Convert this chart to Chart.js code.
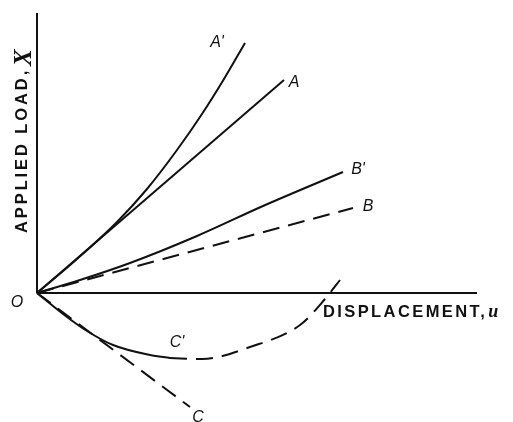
<!DOCTYPE html>
<html>
<head>
<meta charset="utf-8">
<script src="https://cdn.jsdelivr.net/npm/chart.js@4"></script>
<style>
  body { margin: 0; background: #fff; }
  canvas { display: block; }
</style>
</head>
<body>
<canvas id="loadChart" width="513" height="422"></canvas>
<script>
// curves (displacement u, applied load X), arbitrary units
const curveA1 = [[0,0],[4,3.4],[8,7.1],[11,10.4],[14,14.3],[16.5,17.9],[18.7,21.4],[20.8,25]];
const curveA  = [[0,0],[24.7,21.3]];
const curveB1 = [[0,0],[4.3,1.3],[9.3,3],[16,5.7],[22.6,8.7],[30.6,12.1]];
const curveB  = [[0,0],[31.6,8.5]];
const curveC1 = [[0,0],[2.6,-2.1],[5,-3.8],[7.6,-5.2],[11.3,-6.2],[13.3,-6.5]];
const curveC1dash = [[13.3,-6.5],[16.5,-6.6],[21.3,-5.4],[26.3,-3.2],[28.8,-0.6],[30.3,1.3]];
const curveC  = [[0,0],[15.3,-11.4]];
const axisY = [[0,0],[0,28]];
const axisX = [[0,0],[44,0]];

// curve labels [text, u, X]
const curveLabels = [
    ["A'", 18, 25],
    ["A", 25.7, 21],
    ["B'", 32.1, 12.3],
    ["B", 33.1, 8.6],
    ["C'", 14, -5],
    ["C", 16.1, -12.5],
    ["O", -2, -1]
];

const toPts = arr => arr.map(p => ({ x: p[0], y: p[1] }));

function line(data, dashed, smooth) {
    return {
        data: toPts(data),
        showLine: true,
        borderColor: '#111',
        borderWidth: 2,
        borderDash: dashed ? [17, 9] : [],
        pointRadius: 0,
        cubicInterpolationMode: smooth ? 'monotone' : 'default',
        tension: 0,
        clip: false
    };
}

const labelPlugin = {
    id: 'labels',
    afterDatasetsDraw(chart) {
        const c = chart.ctx;
        const sx = chart.scales.x, sy = chart.scales.y;
        c.save();
        c.fillStyle = '#111';
        c.textAlign = 'center';
        c.textBaseline = 'middle';
        c.font = 'italic 16px "Liberation Sans"';
        curveLabels.forEach(l => {
            c.fillText(l[0], sx.getPixelForValue(l[1]), sy.getPixelForValue(l[2]));
        });

        // x axis title
        c.textAlign = 'left';
        c.textBaseline = 'alphabetic';
        c.font = 'bold 16.5px "Liberation Sans"';
        c.letterSpacing = '2.4px';
        let x0 = sx.getPixelForValue(28.6), y0 = sy.getPixelForValue(-2.4);
        c.fillText('DISPLACEMENT,', x0, y0);
        let w = c.measureText('DISPLACEMENT,').width;
        c.letterSpacing = '0px';
        c.font = 'italic bold 18px "Liberation Serif"';
        c.fillText('u', x0 + w + 1, y0);

        // y axis title, reads bottom to top
        c.save();
        c.translate(sx.getPixelForValue(-1.0), sy.getPixelForValue(6));
        c.rotate(-Math.PI / 2);
        c.font = 'bold 16.5px "Liberation Sans"';
        c.letterSpacing = '2.9px';
        c.fillText('APPLIED LOAD,', 0, 0);
        w = c.measureText('APPLIED LOAD,').width;
        c.letterSpacing = '0px';
        c.font = 'italic bold 25px "Liberation Serif"';
        c.fillText('X', w + 2, 4);
        c.restore();
        c.restore();
    }
};

const ctx = document.getElementById('loadChart').getContext('2d');
const loadChart = new Chart(ctx, {
    type: 'scatter',
    data: {
        datasets: [
            line(axisY, false, false),
            line(axisX, false, false),
            line(curveA1, false, true),
            line(curveA, false, false),
            line(curveB1, false, true),
            line(curveB, true, false),
            line(curveC1, false, true),
            line(curveC1dash, true, true),
            line(curveC, true, false)
        ]
    },
    options: {
        responsive: false,
        animation: false,
        layout: { padding: { left: 37, right: 33, top: 13, bottom: 3 } },
        plugins: {
            legend: { display: false },
            tooltip: { enabled: false }
        },
        scales: {
            x: { type: 'linear', min: 0, max: 44.3, display: false },
            y: { type: 'linear', min: -12.6, max: 28, display: false }
        }
    },
    plugins: [labelPlugin]
});
</script>
</body>
</html>
